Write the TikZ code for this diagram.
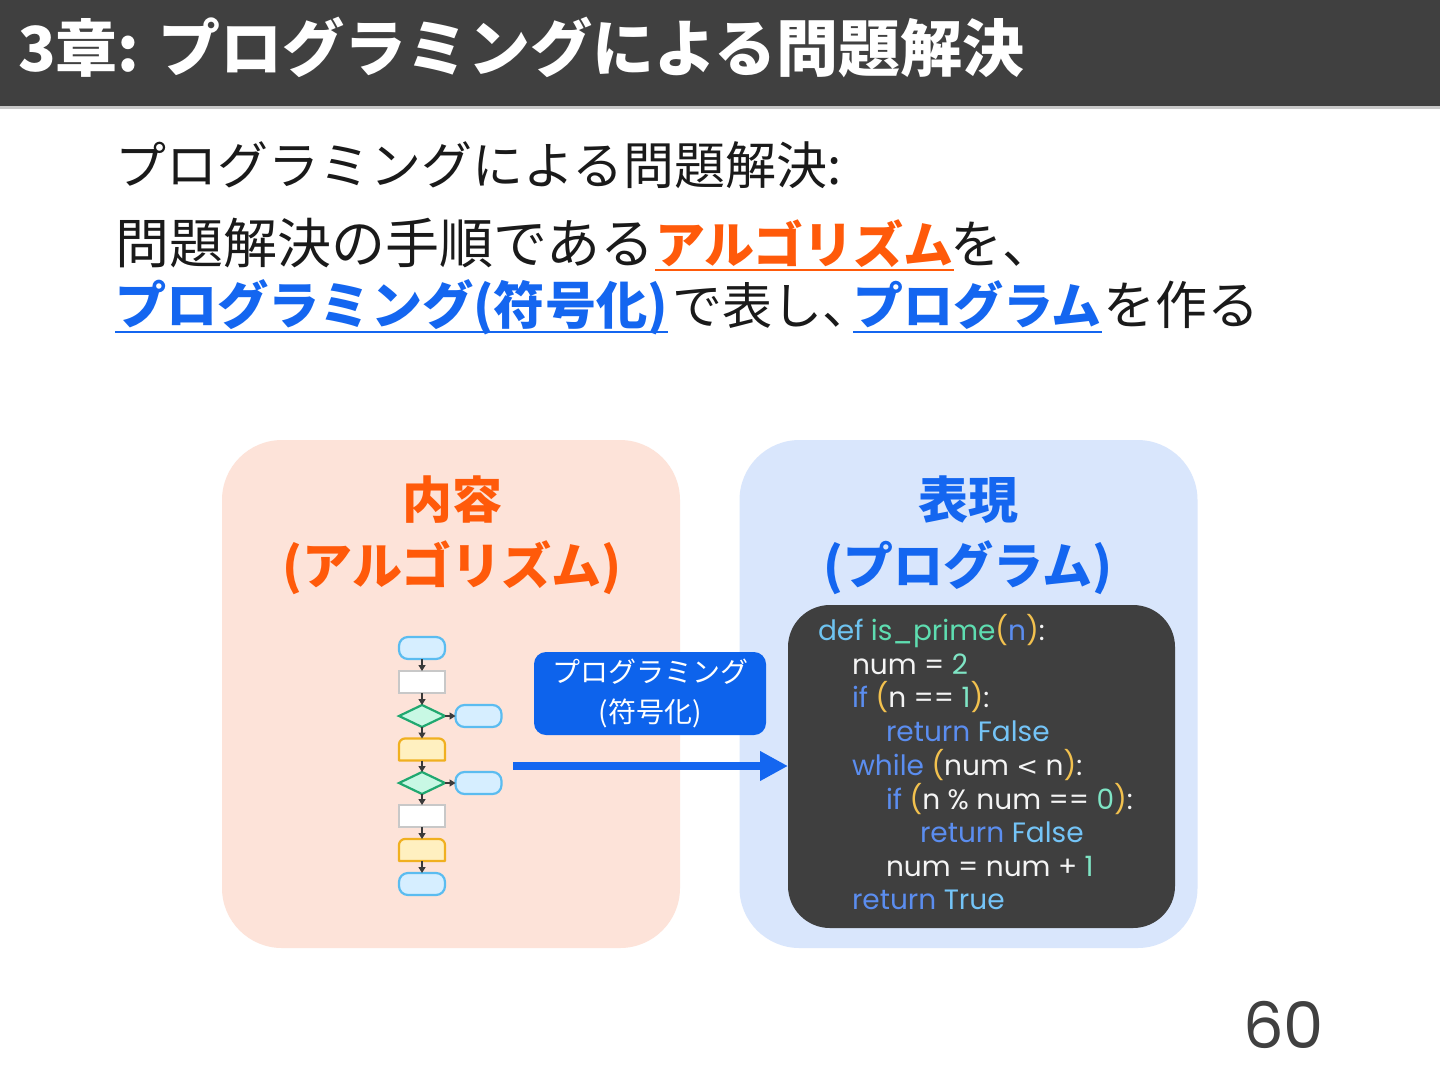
\documentclass[tikz,border=0pt]{standalone}
\usepackage{fontspec}
\setmainfont{Noto Sans CJK JP}
\newfontfamily\codefont{Poppins}
\newfontfamily\symfont{DejaVu Sans}
\usetikzlibrary{arrows.meta,shapes.geometric}
\definecolor{titlebg}{HTML}{404040}
\definecolor{ink}{HTML}{1A1A1A}
\definecolor{orng}{HTML}{FF5A0A}
\definecolor{blu}{HTML}{1466F0}
\definecolor{peach}{HTML}{FDE3D9}
\definecolor{sky}{HTML}{D9E6FC}
\definecolor{codebg}{HTML}{3F3F3F}
\definecolor{ckw}{HTML}{5B8DEF}
\definecolor{cdf}{HTML}{6EC3F0}
\definecolor{cfn}{HTML}{5EDDB0}
\definecolor{cpr}{HTML}{F2C14E}
\definecolor{cnm}{HTML}{7FE5C5}
\definecolor{cbl}{HTML}{74C4F7}
\definecolor{ctx}{HTML}{F4F4F4}
\definecolor{termfill}{HTML}{D6EEFF}
\definecolor{termline}{HTML}{5BBCF0}
\definecolor{procline}{HTML}{C8C8C8}
\definecolor{decfill}{HTML}{C8F8E4}
\definecolor{decline}{HTML}{20A870}
\definecolor{loopfill}{HTML}{FFF0C0}
\definecolor{loopline}{HTML}{F0B020}
\definecolor{flowarrow}{HTML}{3A3A3A}
\definecolor{labelbg}{HTML}{0D63EC}
\begin{document}
\begin{tikzpicture}[x=1pt,y=-1pt,
  bodytxt/.style={inner sep=0pt,outer sep=0pt,anchor=base west,font=\fontsize{52}{60}\selectfont},
  boldtxt/.style={inner sep=0pt,outer sep=0pt,anchor=base west,font=\fontsize{50}{60}\selectfont\bfseries},
  head/.style={inner sep=0pt,outer sep=0pt,anchor=center,font=\fontsize{50}{60}\selectfont\bfseries},
  panel/.style={rounded corners=60pt,minimum width=458pt,minimum height=508pt,inner sep=0pt,outer sep=0pt},
  codeln/.style={inner sep=0pt,outer sep=0pt,anchor=base west,text=ctx,font=\codefont\fontsize{28}{34}\selectfont},
  term/.style={draw=termline,fill=termfill,line width=2.2pt,rounded corners=9pt,minimum width=46pt,minimum height=22pt,inner sep=0pt,outer sep=0pt},
  proc/.style={draw=procline,fill=white,line width=2.2pt,minimum width=46pt,minimum height=22pt,inner sep=0pt,outer sep=0pt},
  dec/.style={diamond,draw=decline,fill=decfill,line width=2.2pt,minimum width=46pt,minimum height=22pt,inner sep=0pt,outer sep=0pt,aspect=2},
  loopbox/.style={minimum width=46pt,minimum height=22pt,inner sep=0pt,outer sep=0pt},
  looppath/.style={draw=loopline,fill=loopfill,line width=2.2pt,line join=round},
  farrow/.style={draw=flowarrow,line width=1.4pt,-{Triangle[length=6pt,width=7pt]}},
  ulo/.style={draw=orng,line width=2.6pt},
  ulb/.style={draw=blu,line width=2.6pt},
  bigarrow/.style={draw=blu,line width=8pt,-{Triangle[length=28pt,width=28pt]}}
]
\useasboundingbox (0,0) rectangle (1440,1080);
\fill[white] (0,0) rectangle (1440,1080);
% title bar
\fill[titlebg] (0,0) rectangle (1440,106);
\fill[procline] (0,106) rectangle (1440,109);
\node[inner sep=0pt,anchor=base west,text=white,font=\fontsize{62}{66}\selectfont\bfseries] (title) at (18,71) {3章: プログラミングによる問題解決};

% body text
\node[bodytxt,text=ink,font=\fontsize{51}{60}\selectfont] (l1) at (115,184) {プログラミングによる問題解決:};
\node[bodytxt,text=ink,font=\fontsize{54}{60}\selectfont] (l2a) at (115,263) {問題解決の手順である};
\node[boldtxt,text=orng] (l2b) at (655,263) {アルゴリズム};
\node[bodytxt,text=ink] (l2c) at (950,263) {を、};
\draw[ulo] ([yshift=-7pt]l2b.base west) -- ([yshift=-7pt]l2b.base east);

\node[boldtxt,text=blu,font=\fontsize{51.2}{60}\selectfont\bfseries] (l3a) at (115,324) {プログラミング(符号化)};
\node[bodytxt,text=ink,font=\fontsize{50}{60}\selectfont] (l3b) at (672,324) {で表し、};
\node[boldtxt,text=blu] (l3c) at (853,324) {プログラム};
\node[bodytxt,text=ink] (l3d) at (1103,324) {を作る};
\draw[ulb] ([yshift=-8pt]l3a.base west) -- ([yshift=-8pt]l3a.base east);
\draw[ulb] ([yshift=-8pt]l3c.base west) -- ([yshift=-8pt]l3c.base east);

% panels
\node[panel,fill=peach] (lp) at (451,694) {};
\node[panel,fill=sky] (rp) at (968.5,694) {};
\node[head,text=orng] (lh1) at (452,500) {内容};
\node[head,text=orng] (lh2) at (452,568) {(アルゴリズム)};
\node[head,text=blu] (rh1) at (968,500) {表現};
\node[head,text=blu] (rh2) at (968,568) {(プログラム)};

% flowchart
\node[term] (t1) at (422,648) {};
\node[proc] (p1) at (422,682) {};
\node[dec] (d1) at (422,716) {};
\node[term] (t2) at (478.5,716) {};
\node[loopbox] (lb1) at (422,749.5) {};
\node[dec] (d2) at (422,783) {};
\node[term] (t3) at (478.5,783) {};
\node[proc] (p2) at (422,816) {};
\node[loopbox] (lb2) at (422,850) {};
\node[term] (t4) at (422,884) {};
\draw[looppath] (lb1.south west) -- ([yshift=-6pt]lb1.north west) arc[start angle=180,end angle=270,radius=6] -- ([xshift=-6pt]lb1.north east) arc[start angle=270,end angle=360,radius=6] -- (lb1.south east) -- cycle;
\draw[looppath] (lb2.south west) -- ([yshift=-6pt]lb2.north west) arc[start angle=180,end angle=270,radius=6] -- ([xshift=-6pt]lb2.north east) arc[start angle=270,end angle=360,radius=6] -- (lb2.south east) -- cycle;
\draw[farrow] (t1.south) -- (p1.north);
\draw[farrow] (p1.south) -- (d1.north);
\draw[farrow] (d1.east) -- (t2.west);
\draw[farrow] (d1.south) -- (lb1.north);
\draw[farrow] (lb1.south) -- (d2.north);
\draw[farrow] (d2.east) -- (t3.west);
\draw[farrow] (d2.south) -- (p2.north);
\draw[farrow] (p2.south) -- (lb2.north);
\draw[farrow] (lb2.south) -- (t4.north);

% code box
\node[fill=codebg,rounded corners=42pt,minimum width=387pt,minimum height=323pt,inner sep=0pt,outer sep=0pt] (code) at (981.5,766.5) {};
\node[codeln] (c1) at (818,640) {\textcolor{cdf}{def} \textcolor{cfn}{is\_prime}\textcolor{cpr}{(}\textcolor{ckw}{n}\textcolor{cpr}{)}:};
\node[codeln] (c2) at (852,674) {num = \textcolor{cnm}{2}};
\node[codeln] (c3) at (852,707) {\textcolor{ckw}{if} \textcolor{cpr}{(}n == \textcolor{cnm}{1}\textcolor{cpr}{)}:};
\node[codeln] (c4) at (886,741) {\textcolor{ckw}{return} \textcolor{cbl}{False}};
\node[codeln] (c5) at (852,775) {\textcolor{ckw}{while} \textcolor{cpr}{(}num {\symfont\fontsize{26}{34}\selectfont<} n\textcolor{cpr}{)}:};
\node[codeln] (c6) at (886,809) {\textcolor{ckw}{if} \textcolor{cpr}{(}n \% num == \textcolor{cnm}{0}\textcolor{cpr}{)}:};
\node[codeln] (c7) at (920,842) {\textcolor{ckw}{return} \textcolor{cbl}{False}};
\node[codeln] (c8) at (886,876) {num = num + \textcolor{cnm}{1}};
\node[codeln] (c9) at (852,909) {\textcolor{ckw}{return} \textcolor{cbl}{True}};

% label and arrow
\node[fill=labelbg,rounded corners=12pt,minimum width=232pt,minimum height=83pt,inner sep=0pt,text=white,align=center,font=\fontsize{28}{40}\selectfont] (lab) at (650,693.5) {プログラミング\\(符号化)};
\coordinate (as) at (513,766);
\draw[bigarrow] (as) -- (as -| code.west);

% page number
\node[inner sep=0pt,anchor=base west,text=titlebg,font=\codefont\fontsize{64}{70}\selectfont] (pg) at (1243,1048) {60};
\end{tikzpicture}
\end{document}
